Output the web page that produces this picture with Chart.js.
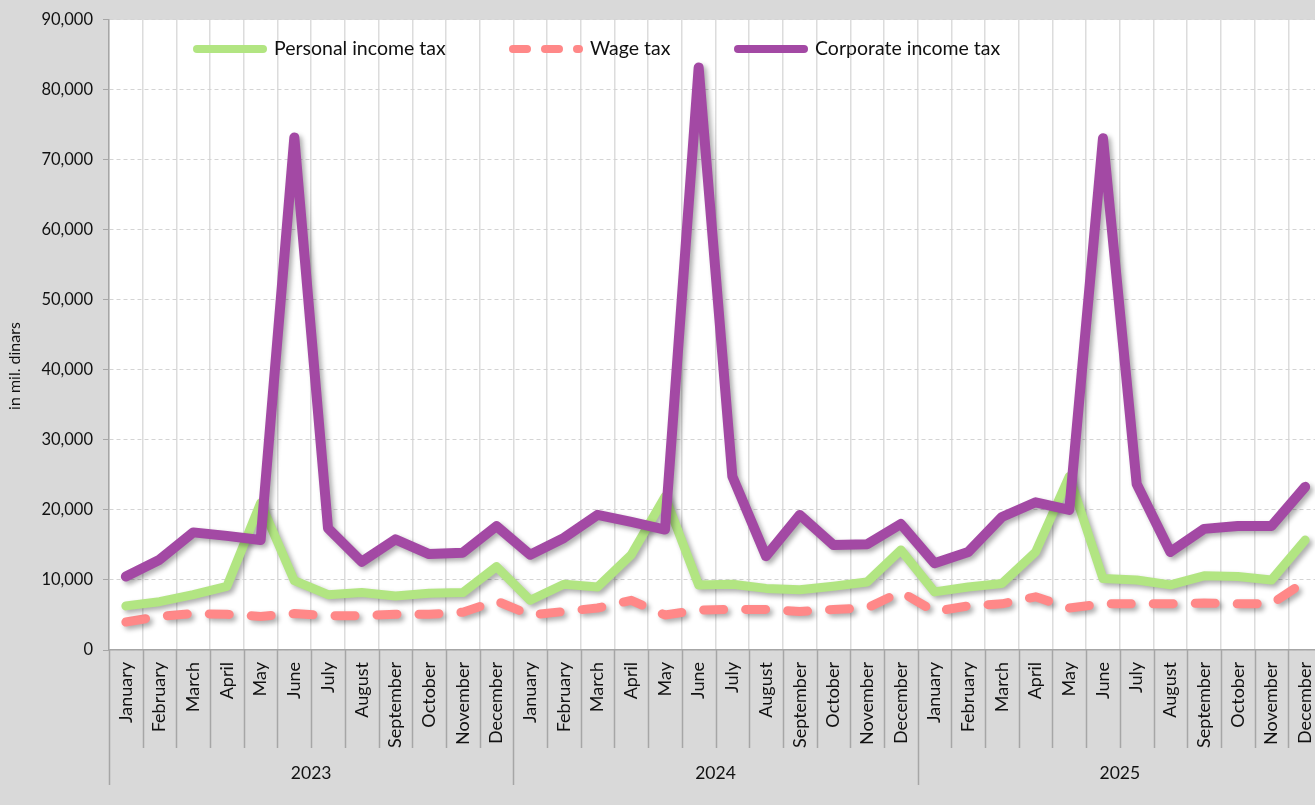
<!DOCTYPE html>
<html>
<head>
<meta charset="utf-8">
<script src="https://cdn.jsdelivr.net/npm/chart.js@4.4.1/dist/chart.umd.min.js"></script>
<style>
  html, body { margin: 0; padding: 0; background: #d9d9d9; overflow: hidden; }
  /* the plot runs a few pixels past the right edge of the window */
  #wrap { width: 1322px; height: 805px; position: relative; }
</style>
</head>
<body>
<div id="wrap"><canvas id="tax-chart"></canvas></div>
<script>
const months = ['January', 'February', 'March', 'April', 'May', 'June', 'July',
  'August', 'September', 'October', 'November', 'December'];
const years = ['2023', '2024', '2025'];

// monthly revenue, in mil. dinars, Jan 2023 .. Dec 2025
const personalIncomeTax = [
  6300, 6900, 7900, 9100, 21000, 9900, 7900, 8200, 7700, 8100, 8200, 11900,
  7100, 9400, 9000, 13600, 21900, 9300, 9400, 8800, 8600, 9100, 9700, 14300,
  8300, 9000, 9500, 14000, 24800, 10200, 10000, 9300, 10600, 10500, 10000, 15700
];
const wageTax = [
  4000, 4800, 5200, 5100, 4800, 5200, 4900, 4900, 5100, 5100, 5400, 7000,
  5000, 5500, 6000, 7100, 5000, 5700, 5800, 5800, 5500, 5800, 6000, 8300,
  5500, 6300, 6600, 7600, 6000, 6600, 6600, 6600, 6700, 6600, 6600, 9800
];
const corporateIncomeTax = [
  10500, 12900, 16800, 16300, 15700, 73200, 17400, 12600, 15800, 13700, 13900, 17700,
  13600, 16000, 19300, 18300, 17200, 83200, 24800, 13400, 19300, 15000, 15100, 18000,
  12400, 14000, 19000, 21100, 20000, 73100, 23700, 14000, 17300, 17700, 17700, 23300
];

const labels = [];
years.forEach(() => months.forEach(m => labels.push(m)));

const FONT = 'Lato, "Open Sans", sans-serif';
const GREEN = 'rgb(178, 229, 130)';
const PINK = 'rgb(255, 136, 136)';
const PURPLE = 'rgb(163, 73, 164)';

// grey page, white plot area
const backdrop = {
  id: 'backdrop',
  beforeDraw(chart) {
    const { ctx, width, height, chartArea: a } = chart;
    ctx.save();
    ctx.fillStyle = '#d9d9d9';
    ctx.fillRect(0, 0, width, height);
    ctx.fillStyle = '#ffffff';
    ctx.fillRect(a.left, a.top, a.right - a.left, a.bottom - a.top);
    ctx.restore();
  }
};

// soft drop shadow under the thick lines
const lineShadow = {
  id: 'lineShadow',
  beforeDatasetDraw(chart) {
    const ctx = chart.ctx;
    ctx.save();
    ctx.shadowColor = 'rgba(0, 0, 0, 0.32)';
    ctx.shadowBlur = 5;
    ctx.shadowOffsetX = 3;
    ctx.shadowOffsetY = 3;
  },
  afterDatasetDraw(chart) {
    chart.ctx.restore();
  }
};

// month dividers, the year row under the axis and the unit caption
const axisExtras = {
  id: 'axisExtras',
  afterDraw(chart) {
    const { ctx } = chart;
    const x = chart.scales.x;
    const half = (x.getPixelForValue(1) - x.getPixelForValue(0)) / 2;
    ctx.save();
    ctx.strokeStyle = '#a6a6a6';
    ctx.lineWidth = 1.5;
    for (let i = 0; i <= labels.length; i++) {
      const px = Math.round(x.getPixelForValue(i) - half) + 0.5;
      ctx.beginPath();
      ctx.moveTo(px, x.top);
      ctx.lineTo(px, x.top + (i % months.length === 0 ? 135 : 98));
      ctx.stroke();
    }
    ctx.fillStyle = '#111';
    ctx.font = '17.5px ' + FONT;
    ctx.textAlign = 'center';
    ctx.textBaseline = 'middle';
    years.forEach((yr, k) => {
      const c = (x.getPixelForValue(k * 12) + x.getPixelForValue(k * 12 + 11)) / 2;
      ctx.fillText(yr, c, x.top + 123);
    });

    ctx.translate(15, 366);
    ctx.rotate(-Math.PI / 2);
    ctx.font = '16px ' + FONT;
    ctx.fillText('in mil. dinars', 0, 0);
    ctx.restore();
  }
};

// legend sits inside the plot, near the top
const insideLegend = {
  id: 'insideLegend',
  afterDraw(chart) {
    const { ctx, chartArea: a } = chart;
    const y = a.top + 29;
    const items = [
      { text: 'Personal income tax', color: GREEN, x: 197, dash: [] },
      { text: 'Wage tax', color: PINK, x: 513, dash: [14, 18] },
      { text: 'Corporate income tax', color: PURPLE, x: 738, dash: [] }
    ];
    ctx.save();
    ctx.font = '19.5px ' + FONT;
    ctx.textBaseline = 'middle';
    items.forEach(it => {
      ctx.strokeStyle = it.color;
      ctx.lineWidth = 8;
      ctx.lineCap = 'round';
      ctx.setLineDash(it.dash);
      ctx.beginPath();
      ctx.moveTo(it.x, y);
      ctx.lineTo(it.x + 66, y);
      ctx.stroke();
      ctx.setLineDash([]);
      ctx.fillStyle = '#111';
      ctx.fillText(it.text, it.x + 77, y);
    });
    ctx.restore();
  }
};

new Chart(document.getElementById('tax-chart'), {
  type: 'line',
  data: {
    labels: labels,
    datasets: [
      {
        label: 'Personal income tax',
        data: personalIncomeTax,
        borderColor: GREEN,
        borderWidth: 9,
        order: 1
      },
      {
        label: 'Wage tax',
        data: wageTax,
        borderColor: PINK,
        borderWidth: 9,
        borderDash: [20, 22],
        order: 2
      },
      {
        label: 'Corporate income tax',
        data: corporateIncomeTax,
        borderColor: PURPLE,
        borderWidth: 10,
        order: 0
      }
    ]
  },
  options: {
    responsive: true,
    maintainAspectRatio: false,
    animation: false,
    layout: { padding: { top: 19, right: 0, bottom: 0, left: 0 } },
    elements: {
      point: { radius: 0, hoverRadius: 0 },
      line: { tension: 0, borderCapStyle: 'round', borderJoinStyle: 'round', fill: false }
    },
    plugins: {
      legend: { display: false },
      tooltip: { enabled: false }
    },
    scales: {
      x: {
        offset: true,
        grid: { color: '#dcdcdc', lineWidth: 1.5, offset: true, drawTicks: false },
        border: { color: '#a6a6a6', width: 1.5 },
        ticks: {
          autoSkip: false,
          minRotation: 90,
          maxRotation: 90,
          padding: 12,
          color: '#111',
          font: { family: FONT, size: 18 }
        },
        afterFit(scale) {
          scale.height = 155;
          scale.paddingLeft = 0;
          scale.paddingRight = 0;
        }
      },
      y: {
        min: 0,
        max: 90000,
        ticks: {
          stepSize: 10000,
          padding: 10,
          color: '#111',
          font: { family: FONT, size: 16.5 },
          callback: v => v.toLocaleString('en-US')
        },
        grid: { color: '#d4d4d4', lineWidth: 1, tickColor: '#a6a6a6', tickLength: 6, tickBorderDash: [] },
        border: { color: '#a6a6a6', width: 1.5, dash: [4, 3] },
        afterFit(scale) { scale.width = 109; }
      }
    }
  },
  plugins: [backdrop, lineShadow, axisExtras, insideLegend]
});
</script>
</body>
</html>
